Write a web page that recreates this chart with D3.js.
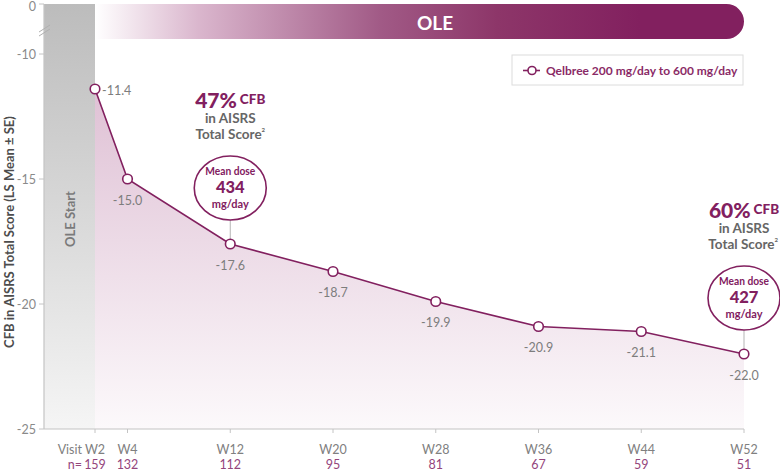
<!DOCTYPE html>
<html>
<head>
<meta charset="utf-8">
<script src="https://cdn.jsdelivr.net/npm/d3@7"></script>
<style>
  body { margin: 0; background: #fff; }
  svg { display: block; font-family: Lato, "Open Sans", sans-serif; }
</style>
</head>
<body>
<svg id="chart" width="780" height="471"></svg>
<script>
// data
const visits = ['W2', 'W4', 'W12', 'W20', 'W28', 'W36', 'W44', 'W52'];
const weeks = [2, 4, 12, 20, 28, 36, 44, 52];
const lsMean = [-11.4, -15.0, -17.6, -18.7, -19.9, -20.9, -21.1, -22.0];
const nCounts = [159, 132, 112, 95, 81, 67, 59, 51];
const yTicks = [0, -10, -15, -20, -25];
const annoWeeks = [12, 52];
const annoPct = ['47%', '60%'];
const annoDose = [434, 427];
const seriesName = 'Qelbree 200 mg/day to 600 mg/day';

const purple = '#82205f';
const svg = d3.select('#chart');

// W2 sits a bit left of the linear week spacing, so piecewise domain
const x = d3.scaleLinear().domain([2, 4, 52]).range([95, 127.5, 744]);
// broken axis: 0 is squeezed in above -10
const y = d3.scaleLinear().domain([-25, -10, 0]).range([429, 54, 4]);

const defs = svg.append('defs');
const gGray = defs.append('linearGradient').attr('id', 'grayBand')
  .attr('x1', 0).attr('y1', 0).attr('x2', 0).attr('y2', 1);
gGray.append('stop').attr('offset', 0).attr('stop-color', '#bcbcbc');
gGray.append('stop').attr('offset', 1).attr('stop-color', '#f5f5f5');

const gOle = defs.append('linearGradient').attr('id', 'oleBar')
  .attr('x1', 0).attr('y1', 0).attr('x2', 1).attr('y2', 0);
[[0, '#ffffff'], [0.16, '#dab6cd'], [0.44, '#a15a86'], [0.62, '#8d3669'], [0.84, purple]]
  .forEach(s => gOle.append('stop').attr('offset', s[0]).attr('stop-color', s[1]));

const gArea = defs.append('linearGradient').attr('id', 'areaFill')
  .attr('x1', 0).attr('y1', 0).attr('x2', 0).attr('y2', 1);
gArea.append('stop').attr('offset', 0).attr('stop-color', '#dfc1d5');
gArea.append('stop').attr('offset', 1).attr('stop-color', '#fcf9fb');

const x0 = x(weeks[0]);
const xEnd = x(weeks[weeks.length - 1]);

// OLE start band
svg.append('rect')
  .attr('x', 44).attr('y', y(0))
  .attr('width', x0 - 44).attr('height', y(-25) - y(0))
  .attr('fill', 'url(#grayBand)');
svg.append('text')
  .attr('transform', `translate(${(44 + x0) / 2}, 219) rotate(-90)`)
  .attr('text-anchor', 'middle').attr('dominant-baseline', 'central')
  .attr('font-size', 13).attr('font-weight', 700).attr('fill', '#7a7a7a')
  .text('OLE Start');

// OLE bar, square left end, rounded right end
const barTop = y(0), barH = 35, rr = barH / 2;
svg.append('path')
  .attr('d', `M${x0},${barTop} H${xEnd - rr} A${rr},${rr} 0 0 1 ${xEnd - rr},${barTop + barH} H${x0} Z`)
  .attr('fill', 'url(#oleBar)');
svg.append('text')
  .attr('x', 435).attr('y', barTop + barH / 2 + 1)
  .attr('text-anchor', 'middle').attr('dominant-baseline', 'central')
  .attr('font-size', 19).attr('font-weight', 700).attr('fill', '#fff')
  .text('OLE');

// area under the line
const pts = weeks.map((w, i) => ({ w: w, v: lsMean[i], n: nCounts[i], label: visits[i] }));
const area = d3.area().x(d => x(d.w)).y0(y(-25)).y1(d => y(d.v));
svg.append('path').datum(pts)
  .attr('d', area).attr('fill', 'url(#areaFill)');

// y axis
svg.append('line')
  .attr('x1', 44).attr('x2', 44).attr('y1', y(0)).attr('y2', y(-25))
  .attr('stroke', '#c4c4c4').attr('stroke-width', 1.2);
svg.selectAll('.ytick').data(yTicks).join('line')
  .attr('class', 'ytick')
  .attr('x1', 39).attr('x2', 44)
  .attr('y1', d => y(d)).attr('y2', d => y(d))
  .attr('stroke', '#c4c4c4');
svg.selectAll('.ylab').data(yTicks).join('text')
  .attr('class', 'ylab')
  .attr('x', 36).attr('y', d => Math.max(y(d), 6))
  .attr('text-anchor', 'end').attr('dominant-baseline', 'central')
  .attr('font-size', 12.5).attr('fill', '#8a8a8a')
  .text(d => d);
// break marks
[0, 4].forEach(o => {
  svg.append('line')
    .attr('x1', 39).attr('y1', 32 + o).attr('x2', 50).attr('y2', 25 + o)
    .attr('stroke', '#b0b0b0').attr('stroke-width', 1);
});
svg.append('text')
  .attr('transform', `translate(9, 232) rotate(-90)`)
  .attr('text-anchor', 'middle').attr('dominant-baseline', 'central')
  .attr('font-size', 13).attr('font-weight', 700).attr('fill', '#4d4d4d')
  .text('CFB in AISRS Total Score (LS Mean ± SE)');

// x axis
svg.append('line')
  .attr('x1', 44).attr('x2', xEnd).attr('y1', y(-25)).attr('y2', y(-25))
  .attr('stroke', '#c4c4c4').attr('stroke-width', 1.2);
svg.selectAll('.xtick').data(pts).join('line')
  .attr('class', 'xtick')
  .attr('x1', d => x(d.w)).attr('x2', d => x(d.w))
  .attr('y1', y(-25)).attr('y2', y(-25) + 4)
  .attr('stroke', '#c4c4c4');
svg.selectAll('.xlab').data(pts).join('text')
  .attr('class', 'xlab')
  .attr('x', d => x(d.w)).attr('y', 449)
  .attr('text-anchor', 'middle').attr('dominant-baseline', 'central')
  .attr('font-size', 12.5).attr('fill', '#808080')
  .text(d => d.label);
svg.selectAll('.nlab').data(pts).join('text')
  .attr('class', 'nlab')
  .attr('x', d => x(d.w)).attr('y', 464)
  .attr('text-anchor', 'middle').attr('dominant-baseline', 'central')
  .attr('font-size', 12.5).attr('fill', '#94457c')
  .text(d => d.n);
svg.append('text')
  .attr('x', 82).attr('y', 449)
  .attr('text-anchor', 'end').attr('dominant-baseline', 'central')
  .attr('font-size', 12.5).attr('fill', '#808080').text('Visit');
svg.append('text')
  .attr('x', 82).attr('y', 464)
  .attr('text-anchor', 'end').attr('dominant-baseline', 'central')
  .attr('font-size', 12.5).attr('fill', '#94457c').text('n=');

// connectors from annotation circles to points
const annos = annoWeeks.map((w, i) => {
  const v = lsMean[weeks.indexOf(w)];
  return { w: w, v: v, pct: annoPct[i], dose: annoDose[i], cx: x(w), cy: y(v) - 56 };
});
const rx = 36, ry = 32;
svg.selectAll('.conn').data(annos).join('line')
  .attr('class', 'conn')
  .attr('x1', d => d.cx).attr('x2', d => d.cx)
  .attr('y1', d => d.cy + ry).attr('y2', d => y(d.v))
  .attr('stroke', '#b5b5b5').attr('stroke-width', 1);

// line + markers
const line = d3.line().x(d => x(d.w)).y(d => y(d.v));
svg.append('path').datum(pts)
  .attr('d', line).attr('fill', 'none')
  .attr('stroke', purple).attr('stroke-width', 1.6);
svg.selectAll('.pt').data(pts).join('circle')
  .attr('class', 'pt')
  .attr('cx', d => x(d.w)).attr('cy', d => y(d.v)).attr('r', 4.8)
  .attr('fill', '#fff').attr('stroke', purple).attr('stroke-width', 1.6);

// value labels
svg.selectAll('.vlab').data(pts).join('text')
  .attr('class', 'vlab')
  .attr('x', (d, i) => i === 0 ? x(d.w) + 7 : x(d.w))
  .attr('y', (d, i) => i === 0 ? y(d.v) + 1 : y(d.v) + 21)
  .attr('text-anchor', (d, i) => i === 0 ? 'start' : 'middle')
  .attr('dominant-baseline', 'central')
  .attr('font-size', 12.5).attr('fill', '#7d7d7d')
  .text(d => d.v.toFixed(1));

// annotations
const ag = svg.selectAll('.anno').data(annos).join('g').attr('class', 'anno');
ag.append('ellipse')
  .attr('cx', d => d.cx).attr('cy', d => d.cy).attr('rx', rx).attr('ry', ry)
  .attr('fill', '#fff').attr('stroke', purple).attr('stroke-width', 1.6);
ag.append('text')
  .attr('x', d => d.cx).attr('y', d => d.cy - 18)
  .attr('text-anchor', 'middle').attr('dominant-baseline', 'central')
  .attr('font-size', 11).attr('font-weight', 700).attr('fill', purple)
  .attr('textLength', 50).attr('lengthAdjust', 'spacingAndGlyphs')
  .text('Mean dose');
ag.append('text')
  .attr('x', d => d.cx).attr('y', d => d.cy - 1.5)
  .attr('text-anchor', 'middle').attr('dominant-baseline', 'central')
  .attr('font-size', 16.5).attr('font-weight', 900).attr('fill', purple)
  .text(d => d.dose);
ag.append('text')
  .attr('x', d => d.cx).attr('y', d => d.cy + 15)
  .attr('text-anchor', 'middle').attr('dominant-baseline', 'central')
  .attr('font-size', 11).attr('font-weight', 700).attr('fill', purple)
  .text('mg/day');

const head = ag.append('text')
  .attr('x', d => d.cx).attr('y', d => d.cy - 89)
  .attr('text-anchor', 'middle').attr('dominant-baseline', 'central')
  .attr('fill', purple).attr('font-weight', 900);
head.append('tspan').attr('font-size', 21).text(d => d.pct);
head.append('tspan').attr('font-size', 13.5).attr('dx', 3).text('CFB');
const sub1 = ag.append('text')
  .attr('x', d => d.cx).attr('y', d => d.cy - 70)
  .attr('text-anchor', 'middle').attr('dominant-baseline', 'central')
  .attr('font-size', 13.5).attr('font-weight', 700).attr('fill', '#666')
  .text('in AISRS');
const sub2 = ag.append('text')
  .attr('x', d => d.cx).attr('y', d => d.cy - 54)
  .attr('text-anchor', 'middle').attr('dominant-baseline', 'central')
  .attr('font-size', 13.5).attr('font-weight', 700).attr('fill', '#666');
sub2.append('tspan').text('Total Score');
sub2.append('tspan').attr('font-size', 6).attr('dy', -5).text('2');

// keep the annotation text inside the picture
[head, sub1, sub2].forEach(sel => {
  sel.each(function (d) {
    const w = this.getComputedTextLength();
    const cx = Math.min(d.cx, 778 - w / 2);
    d3.select(this).attr('x', cx);
  });
});

// legend
const lg = svg.append('g').attr('transform', 'translate(512, 55)');
lg.append('rect').attr('width', 231).attr('height', 30)
  .attr('fill', '#fff').attr('stroke', '#dcdcdc').attr('stroke-width', 1);
lg.append('line').attr('x1', 11).attr('x2', 28).attr('y1', 15.5).attr('y2', 15.5)
  .attr('stroke', purple).attr('stroke-width', 1.6);
lg.append('circle').attr('cx', 20).attr('cy', 15.5).attr('r', 4)
  .attr('fill', '#fff').attr('stroke', purple).attr('stroke-width', 1.6);
lg.append('text').attr('x', 34).attr('y', 15.5)
  .attr('dominant-baseline', 'central')
  .attr('font-size', 12).attr('font-weight', 700).attr('fill', '#8a2a66')
  .text(seriesName);
</script>
</body>
</html>
